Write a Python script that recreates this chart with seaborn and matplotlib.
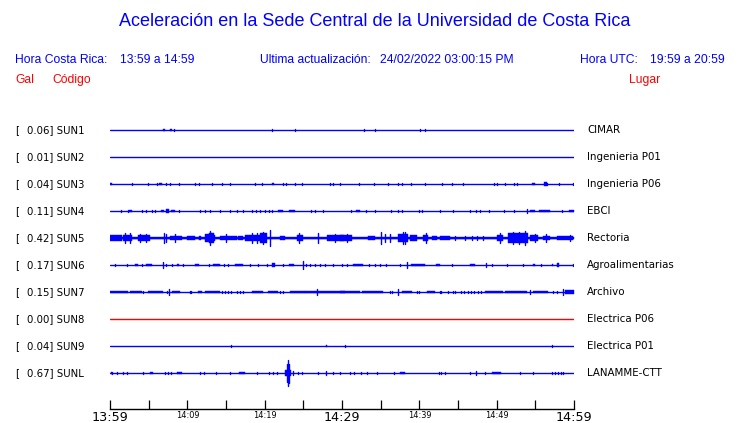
import matplotlib
matplotlib.use("Agg")
import matplotlib.pyplot as plt
import pandas as pd
import seaborn as sns

# ---------------- data ----------------
STATIONS = ["SUN1", "SUN2", "SUN3", "SUN4", "SUN5", "SUN6", "SUN7", "SUN8", "SUN9", "SUNL"]
PEAK_GAL = [0.06, 0.01, 0.04, 0.11, 0.42, 0.17, 0.15, 0.00, 0.04, 0.67]
PLACES = ["CIMAR", "Ingenieria P01", "Ingenieria P06", "EBCI", "Rectoria",
          "Agroalimentarias", "Archivo", "Electrica P06", "Electrica P01", "LANAMME-CTT"]
TICK_MINUTES = [0, 5, 10, 15, 20, 25, 30, 35, 40, 45, 50, 55, 60]
TICK_LABELS = ["13:59", "", "14:09", "", "14:19", "", "14:29", "", "14:39", "", "14:49", "", "14:59"]
BIG_TICKS = ["13:59", "14:29", "14:59"]

# spikes: (minute, amplitude gal) ; bursts: (start minute, end minute, amplitude gal)
SUN1_SPIKES = [(8.3, .04), (20.9, .03), (23.9, .04), (32.8, .04), (34.3, .04), (40.1, .05), (40.7, .05)]
SUN1_BURSTS = [(6.8, 7.1, .05), (7.7, 8.0, .06)]
SUN2_SPIKES = []
SUN2_BURSTS = []
SUN3_SPIKES = [(2.8, .05), (4.9, .05), (6.1, .05), (7.2, .05), (7.8, .05), (8.9, .05), (11.0, .05),
               (11.5, .05), (13.2, .05), (14.5, .05), (15.5, .05), (18.8, .05), (19.6, .05), (22.4, .05),
               (22.8, .05), (23.9, .05), (24.8, .05), (28.4, .05), (28.8, .05), (29.7, .05), (32.2, .05),
               (34.1, .05), (35.9, .05), (37.3, .05), (37.7, .05), (38.9, .05), (40.7, .05), (42.9, .05),
               (44.2, .05), (45.7, .05), (49.7, .05), (50.1, .05), (51.1, .05), (52.2, .05), (52.6, .05),
               (56.5, .05), (58.1, .05), (59.9, .05)]
SUN3_BURSTS = [(0.0, 0.2, .06), (6.4, 6.7, .06), (20.9, 21.2, .06), (54.6, 54.9, .06), (56.1, 56.5, .08)]
SUN4_SPIKES = [(1.4, .06), (2.3, .06), (4.2, .06), (4.7, .06), (5.4, .06), (5.8, .06), (8.9, .06),
               (11.7, .06), (12.3, .06), (12.9, .06), (14.2, .06), (15.5, .06), (16.4, .06), (17.2, .06),
               (18.4, .06), (18.9, .06), (19.4, .06), (20.0, .06), (20.5, .06), (20.9, .06), (26.0, .06),
               (26.5, .06), (27.5, .06), (31.2, .06), (33.1, .06), (34.3, .06), (36.3, .06), (37.2, .06),
               (37.8, .06), (40.0, .06), (40.4, .06), (42.7, .06), (44.3, .06), (46.5, .06), (47.3, .06),
               (47.8, .06), (49.0, .06), (50.9, .06), (52.2, .06), (53.9, .10), (58.5, .06)]
SUN4_BURSTS = [(2.5, 2.9, .06), (6.6, 7.0, .07), (7.3, 7.6, .08), (7.9, 8.4, .06), (21.7, 22.4, .07),
               (23.2, 23.9, .07), (31.8, 32.3, .06), (54.3, 55.0, .06), (55.5, 56.3, .06), (56.3, 56.9, .05),
               (59.3, 60.0, .06)]
SUN5_SPIKES = [(1.9, .26), (2.6, .26), (7.0, .24), (7.3, .20), (20.7, .42), (26.9, .24), (35.1, .32),
               (35.6, .21), (36.2, .21), (37.9, .32), (44.6, .11), (45.9, .10), (46.8, .11), (47.5, .11),
               (48.2, .11), (53.7, .37), (59.5, .16), (12.9, .37), (3.9, .20), (4.6, .19), (8.4, .20),
               (15.0, .20), (18.3, .26), (19.0, .25), (19.8, .32), (24.5, .24), (29.1, .21), (30.6, .21),
               (38.1, .30), (40.8, .24), (50.4, .24), (52.1, .34), (52.9, .33), (55.0, .21), (56.4, .19)]
SUN5_BURSTS = [(0.0, 60.0, .07), (0.0, 1.5, .14), (1.7, 2.8, .18), (3.6, 5.2, .14), (7.8, 9.3, .13),
               (10.0, 11.0, .11), (11.5, 11.8, .11), (12.3, 12.8, .21), (12.8, 13.4, .28), (13.4, 13.6, .17),
               (14.2, 16.4, .13), (16.5, 17.2, .13), (17.5, 19.4, .18), (19.4, 20.3, .25), (22.0, 22.6, .10),
               (24.2, 24.9, .17), (28.0, 30.3, .15), (29.7, 31.3, .15), (33.4, 34.3, .13), (37.2, 38.5, .21),
               (38.8, 39.7, .15), (40.5, 41.1, .17), (41.6, 42.3, .13), (42.7, 44.0, .13), (50.0, 50.8, .17),
               (51.5, 54.0, .25), (54.3, 55.3, .15), (56.0, 56.9, .13), (57.8, 59.9, .11)]
SUN6_SPIKES = [(0.6, .06), (2.2, .06), (4.1, .06), (6.9, .16), (7.3, .06), (8.0, .06), (9.4, .06),
               (12.8, .06), (14.7, .06), (15.3, .06), (18.1, .06), (19.2, .06), (20.3, .06), (22.4, .06),
               (24.9, .21), (25.3, .06), (25.9, .06), (26.5, .06), (27.2, .06), (27.8, .06), (28.8, .06),
               (30.0, .06), (30.6, .06), (33.5, .06), (34.3, .06), (34.9, .06), (35.7, .06), (37.5, .06),
               (38.4, .16), (44.2, .06), (48.6, .13), (49.4, .06), (51.4, .06), (53.4, .06), (55.7, .06),
               (59.9, .06)]
SUN6_BURSTS = [(3.2, 3.6, .06), (4.7, 5.4, .06), (8.6, 8.9, .06), (11.0, 11.5, .06), (13.3, 14.2, .06),
               (16.2, 17.2, .06), (20.9, 21.3, .09), (23.2, 23.8, .06), (31.4, 32.7, .05), (38.9, 40.7, .05),
               (42.2, 42.7, .06), (46.6, 47.2, .06), (54.7, 54.9, .06), (57.1, 57.3, .06), (57.8, 58.0, .12)]
SUN7_SPIKES = [(4.3, .06), (7.4, .06), (7.6, .15), (10.3, .06), (10.5, .06), (14.5, .06), (14.9, .06),
               (15.3, .06), (15.6, .06), (16.4, .06), (16.8, .06), (17.2, .06), (22.0, .06), (22.4, .06),
               (26.8, .17), (36.2, .06), (36.5, .06), (37.3, .15), (39.7, .06), (40.0, .06), (42.7, .06),
               (42.8, .06), (43.7, .06), (44.3, .06), (44.6, .06), (45.4, .06), (45.8, .06), (46.3, .06),
               (46.7, .06), (47.1, .06), (47.6, .06), (48.0, .06), (54.3, .13), (57.3, .06), (57.8, .06),
               (58.6, .17)]
SUN7_BURSTS = [(0.0, 2.3, .06), (2.6, 4.1, .06), (4.9, 6.9, .06), (8.0, 9.1, .06), (11.4, 11.9, .06),
               (12.3, 14.2, .06), (18.4, 19.8, .06), (20.4, 21.7, .06), (23.3, 25.2, .06), (25.2, 26.8, .06),
               (26.9, 30.4, .06), (29.7, 32.3, .06), (32.6, 35.3, .06), (37.8, 39.0, .06), (41.0, 42.0, .06),
               (48.5, 50.8, .06), (51.1, 53.9, .06), (54.7, 56.6, .06), (58.8, 60.0, .08)]
SUN8_SPIKES = []
SUN8_BURSTS = []
SUN9_SPIKES = [(15.6, .04), (30.4, .03), (50.9, .02), (57.1, .05)]
SUN9_BURSTS = [(27.9, 28.1, .04)]
SUNL_SPIKES = [(0.2, .06), (0.9, .05), (1.7, .05), (2.2, .05), (4.3, .05), (7.1, .05), (7.5, .05),
               (7.9, .05), (11.6, .05), (12.2, .05), (13.7, .05), (15.5, .05), (19.0, .05), (20.5, .05),
               (21.1, .05), (21.6, .05), (23.0, .67), (22.9, .45), (23.1, .50), (23.7, .12), (24.3, .06),
               (24.8, .06), (26.9, .05), (27.9, .08), (28.9, .05), (29.7, .05), (31.0, .05), (31.5, .05),
               (32.5, .05), (33.2, .05), (34.5, .05), (36.7, .05), (42.5, .06), (42.8, .06), (43.3, .05),
               (46.6, .05), (47.3, .13), (48.5, .05), (53.0, .05), (54.7, .05), (57.1, .05), (57.5, .05),
               (57.9, .05), (58.3, .05), (58.6, .05)]
SUNL_BURSTS = [(0.1, 0.3, .06), (5.2, 5.6, .07), (8.6, 9.3, .07), (16.7, 17.4, .07), (22.6, 23.4, .18),
               (37.5, 38.2, .07), (49.4, 50.5, .07)]

SPIKES = [SUN1_SPIKES, SUN2_SPIKES, SUN3_SPIKES, SUN4_SPIKES, SUN5_SPIKES,
          SUN6_SPIKES, SUN7_SPIKES, SUN8_SPIKES, SUN9_SPIKES, SUNL_SPIKES]
BURSTS = [SUN1_BURSTS, SUN2_BURSTS, SUN3_BURSTS, SUN4_BURSTS, SUN5_BURSTS,
          SUN6_BURSTS, SUN7_BURSTS, SUN8_BURSTS, SUN9_BURSTS, SUNL_BURSTS]

# ---------------- style / layout ----------------
BLUE = "#0000ff"
RED = "#ff0000"
W, H = 740, 423
PX_PER_GAL = 19.0
ROW0, ROW_STEP = 130, 27
AX_L, AX_R, AX_T, AX_B = 110, 574, 112, 409

sns.set_style("white")
plt.rcParams["font.family"] = ["DejaVu Sans"]

fig = plt.figure(figsize=(W / 100, H / 100), dpi=100)
ax = fig.add_axes([AX_L / W, 1 - AX_B / H, (AX_R - AX_L) / W, (AX_B - AX_T) / H])

rows = []
seg = 0
for i, name in enumerate(STATIONS):
    y0 = ROW0 + ROW_STEP * i
    col = RED if PEAK_GAL[i] == 0 else BLUE
    rows.append(dict(seg=seg, t=0.0, y=y0, c=col))
    rows.append(dict(seg=seg, t=60.0, y=y0, c=col))
    seg += 1
    for t, a in SPIKES[i]:
        rows.append(dict(seg=seg, t=t, y=y0 - a * PX_PER_GAL, c=col))
        rows.append(dict(seg=seg, t=t, y=y0 + a * PX_PER_GAL, c=col))
        seg += 1
    for t0, t1, a in BURSTS[i]:
        ax.fill_between([t0, t1], y0 - a * PX_PER_GAL, y0 + a * PX_PER_GAL,
                        color=col, lw=0.3, edgecolor=col)

df = pd.DataFrame(rows)
for col, sub in df.groupby("c"):
    sns.lineplot(data=sub, x="t", y="y", units="seg", estimator=None, sort=False,
                 color=col, lw=1.0, ax=ax, legend=False)

ax.set_xlim(0, 60)
ax.set_ylim(AX_B, AX_T)
for s in ["top", "left", "right"]:
    ax.spines[s].set_visible(False)
ax.spines["bottom"].set_color("black")
ax.spines["bottom"].set_linewidth(1.0)
ax.set_yticks([])
ax.set_xlabel("")
ax.set_ylabel("")
ax.set_xticks(TICK_MINUTES)
ax.set_xticklabels(TICK_LABELS)
ax.tick_params(axis="x", bottom=True, direction="in", length=6.5, width=0.9,
               color="black", pad=1.5)
for lab in ax.get_xticklabels():
    lab.set_fontsize(9.2 if lab.get_text() in BIG_TICKS else 5.9)
    lab.set_color("black")

def ftxt(x, y, s, **kw):
    fig.text(x / W, 1 - y / H, s, **kw)

HDR = dict(fontfamily="Liberation Sans", fontsize=8.7, va="center", ha="left")
ftxt(375, 22, "Aceleración en la Sede Central de la Universidad de Costa Rica",
     fontfamily="Liberation Sans", fontsize=13, va="center", ha="center", color=BLUE)
ftxt(15, 60, "Hora Costa Rica:", color=BLUE, **HDR)
ftxt(120, 60, "13:59 a 14:59", color=BLUE, **HDR)
ftxt(260, 60, "Ultima actualización:", color=BLUE, **HDR)
ftxt(380, 60, "24/02/2022 03:00:15 PM", color=BLUE, **HDR)
ftxt(580, 60, "Hora UTC:", color=BLUE, **HDR)
ftxt(650, 60, "19:59 a 20:59", color=BLUE, **HDR)
ftxt(15, 80, "Gal", color=RED, **HDR)
ftxt(52, 80, "Código", color=RED, **HDR)
ftxt(629, 80, "Lugar", color=RED, **HDR)

for i, name in enumerate(STATIONS):
    y0 = ROW0 + ROW_STEP * i
    ftxt(15, y0, "[", fontsize=7.3, va="center", ha="left", color="black")
    ftxt(27, y0, f"{PEAK_GAL[i]:.2f}] {name}", fontsize=7.3, va="center", ha="left", color="black")
    ftxt(587, y0, PLACES[i], fontsize=7.4, va="center", ha="left", color="black")

fig.savefig("out.png", dpi=100, facecolor="white")
